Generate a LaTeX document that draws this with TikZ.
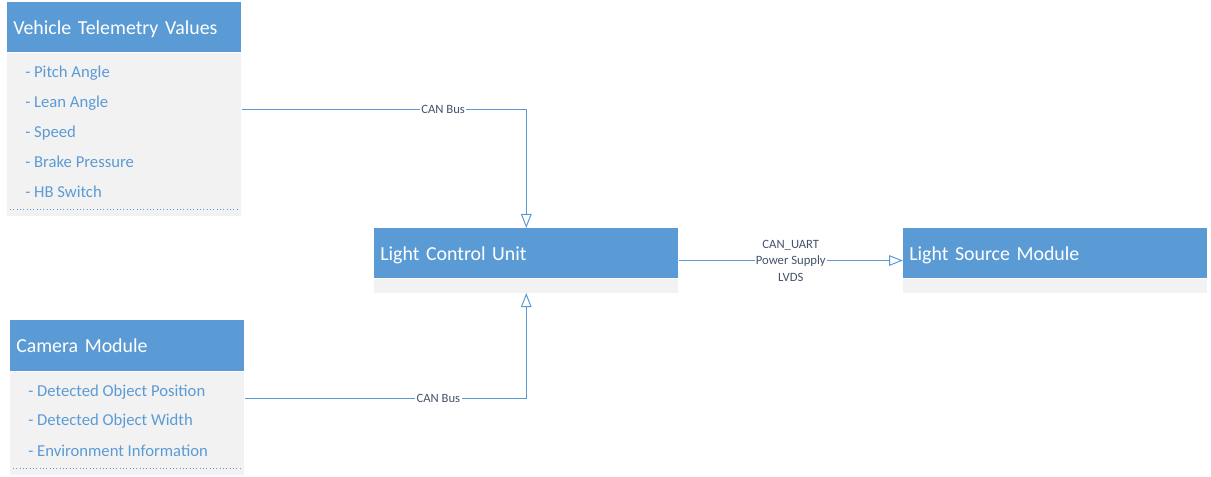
\documentclass[tikz,border=0pt]{standalone}
\usepackage{fontspec}
\setmainfont{Carlito}
\usetikzlibrary{arrows.meta, positioning, calc}
\definecolor{hdblue}{HTML}{5B9BD5}
\definecolor{bdgray}{HTML}{F2F2F2}
\definecolor{lbltext}{HTML}{44546A}

\begin{document}
\begin{tikzpicture}[x=0.75pt, y=-0.75pt,
  head/.style={fill=hdblue, text=white, font=\fontsize{14.9}{17}\selectfont, anchor=north west,
    minimum height=37.5pt, inner xsep=4.5pt, inner ysep=0pt, text depth=0pt, align=left, text width=#1},
  body/.style={fill=bdgray, anchor=north, inner sep=0pt, minimum width=#1},
  item/.style={text=hdblue, font=\fontsize{12.5}{14}\selectfont, anchor=west, inner sep=0pt},
  link/.style={draw=hdblue, line width=0.75pt, -{Triangle[open, length=10.5pt, width=8pt]}},
  buslbl/.style={fill=white, text=lbltext, font=\fontsize{9.5}{12.4}\selectfont, inner xsep=1pt, inner ysep=0pt}]
\useasboundingbox (0,0) rectangle (1211,477);
% vehicle telemetry
\node[head=166.5pt] (telhead) at (7,2) {Vehicle Telemetry Values};
\node[body=175.5pt, minimum height=122.25pt] (telbody) at (telhead.south) {};
\node[item] (tel1) at (25,73) {- Pitch Angle};
\node[item] (tel2) at (25,103) {- Lean Angle};
\node[item] (tel3) at (25,133) {- Speed};
\node[item] (tel4) at (25,162) {- Brake Pressure};
\node[item] (tel5) at (25,192) {- HB Switch};
\draw[hdblue, dotted, line width=0.5pt] (10,209) -- (237,209);
% camera
\node[head=166.5pt, minimum height=38.25pt] (camhead) at (10,320) {Camera Module};
\node[body=175.5pt, minimum height=77.25pt] (cambody) at (camhead.south) {};
\node[item] (cam1) at (28,392) {- Detected Object Position};
\node[item] (cam2) at (28,421) {- Detected Object Width};
\node[item] (cam3) at (28,451) {- Environment Information};
\draw[hdblue, dotted, line width=0.5pt] (13,468) -- (240,468);
% light control unit and light source module
\node[head=219pt] (lcuhead) at (374,228) {Light Control Unit};
\node[body=228pt, minimum height=10.5pt] (lcubody) at (lcuhead.south) {};
\node[head=219pt] (lsmhead) at (903,228) {Light Source Module};
\node[body=228pt, minimum height=10.5pt] (lsmbody) at (lsmhead.south) {};
% connectors
\draw[link] ($(telbody.north east)+(0,57)$) -| node[buslbl, pos=0.354] {CAN Bus} (lcuhead.north);
\draw[link] ($(cambody.north east)+(0,27)$) -| node[buslbl, pos=0.344] {CAN Bus} (lcubody.south);
\draw[link] ($(lcuhead.north east)!0.5!(lcubody.south east)$) -- node[buslbl, align=center] {CAN\_UART\\Power Supply\\LVDS} ($(lsmhead.north west)!0.5!(lsmbody.south west)$);
\end{tikzpicture}
\end{document}
